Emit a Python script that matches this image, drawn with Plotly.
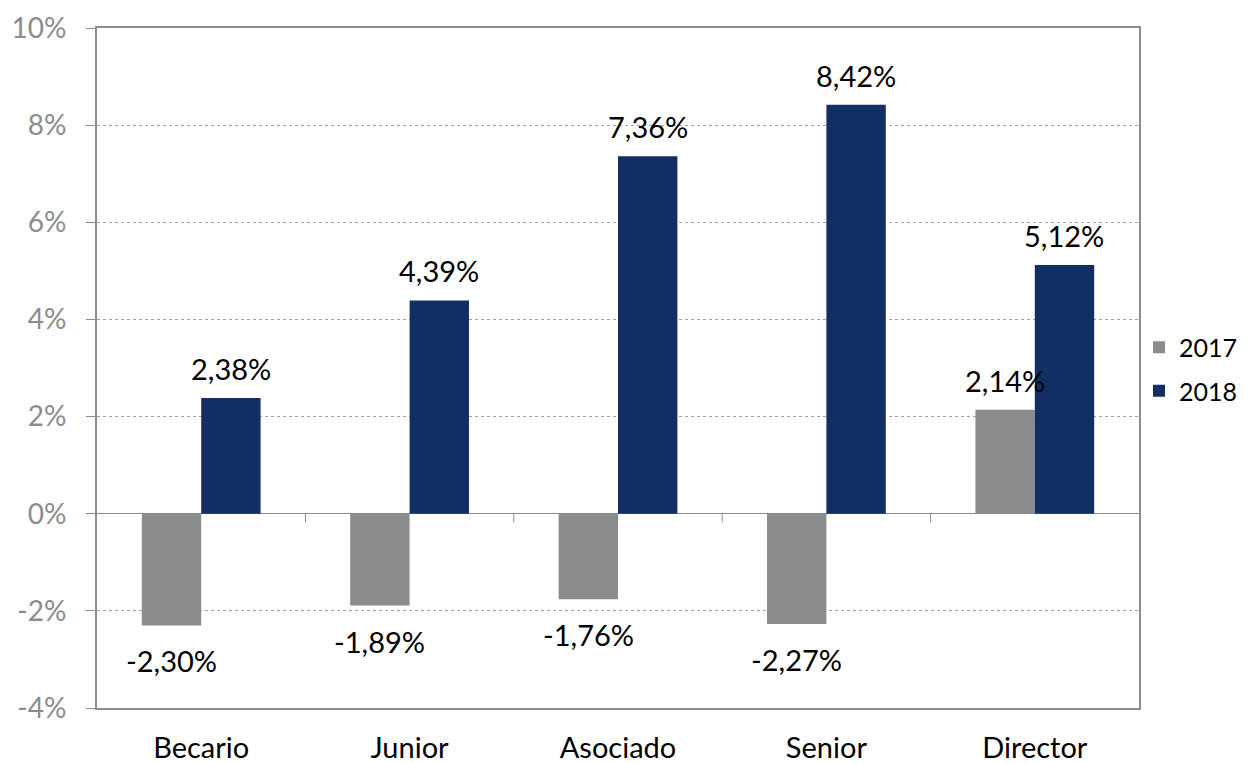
import plotly.graph_objects as go

categories = ["Becario", "Junior", "Asociado", "Senior", "Director"]
series_names = ["2017", "2018"]
values_2017 = [-2.30, -1.89, -1.76, -2.27, 2.14]
values_2018 = [2.38, 4.39, 7.36, 8.42, 5.12]
ytick_vals = [-4, -2, 0, 2, 4, 6, 8, 10]
ytick_text = ["-4%", "-2%", "0%", "2%", "4%", "6%", "8%", "10%"]

colors = {"2017": "#8b8c8e", "2018": "#112f63"}
FONT = "Lato"
GRAY = "#8c8c8c"

def fmt(v):
    return f"{v:.2f}".replace(".", ",") + "%"

fig = go.Figure()
for name, vals in zip(series_names, [values_2017, values_2018]):
    fig.add_trace(go.Bar(
        x=categories, y=vals, name=name, legendgroup=name,
        marker=dict(color=colors[name], line=dict(width=0)),
    ))

W, H = 1242, 755
L, T = 89, 20
R = W - 1131
B = H - 700
plot_w = W - L - R
cat_w = plot_w / len(categories)
bargap = 0.43
bar_w = cat_w * (1 - bargap) / 2
annotations = []
for si, vals in enumerate([values_2017, values_2018]):
    shift = (si - 0.5) * bar_w
    for c, v in zip(categories, vals):
        annotations.append(dict(
            x=c, y=v, xref="x", yref="y", text=fmt(v), showarrow=False,
            xshift=shift, yshift=10 if v >= 0 else -16,
            yanchor="bottom" if v >= 0 else "top",
            font=dict(family=FONT, size=29, color="#000000"),
        ))

shapes = []
for i in range(1, len(categories)):
    shapes.append(dict(type="line", xref="x", yref="y",
                       x0=i - 0.5, x1=i - 0.5, y0=0, y1=-0.18,
                       line=dict(color=GRAY, width=1)))

fig.update_layout(
    width=W, height=H,
    margin=dict(l=L, r=R, t=T, b=B, autoexpand=False),
    plot_bgcolor="white", paper_bgcolor="white",
    barmode="group", bargap=bargap, bargroupgap=0,
    font=dict(family=FONT, color="#000000"),
    legend=dict(x=1.0, y=0.4985, xanchor="left", yanchor="middle",
                font=dict(family=FONT, size=25, color="#000000"),
                itemwidth=30, tracegroupgap=8, bgcolor="rgba(0,0,0,0)"),
    annotations=annotations,
    shapes=shapes,
    showlegend=True,
)
fig.update_xaxes(
    showline=True, linecolor=GRAY, linewidth=2, mirror=True,
    ticks="", tickfont=dict(family=FONT, size=29, color="#000000"),
    ticklabelstandoff=13, showgrid=False, automargin=False,
)
fig.update_yaxes(
    range=[-4, 10], tickvals=ytick_vals, ticktext=ytick_text,
    showline=True, linecolor=GRAY, linewidth=2, mirror=True,
    ticks="outside", ticklen=9, tickcolor=GRAY, tickwidth=1,
    tickfont=dict(family=FONT, size=28, color=GRAY),
    ticklabelstandoff=14, automargin=False,
    showgrid=True, gridcolor="#a0a0a0", griddash="dot", gridwidth=1,
    zeroline=True, zerolinecolor=GRAY, zerolinewidth=1,
)
fig.write_html("out.html")
